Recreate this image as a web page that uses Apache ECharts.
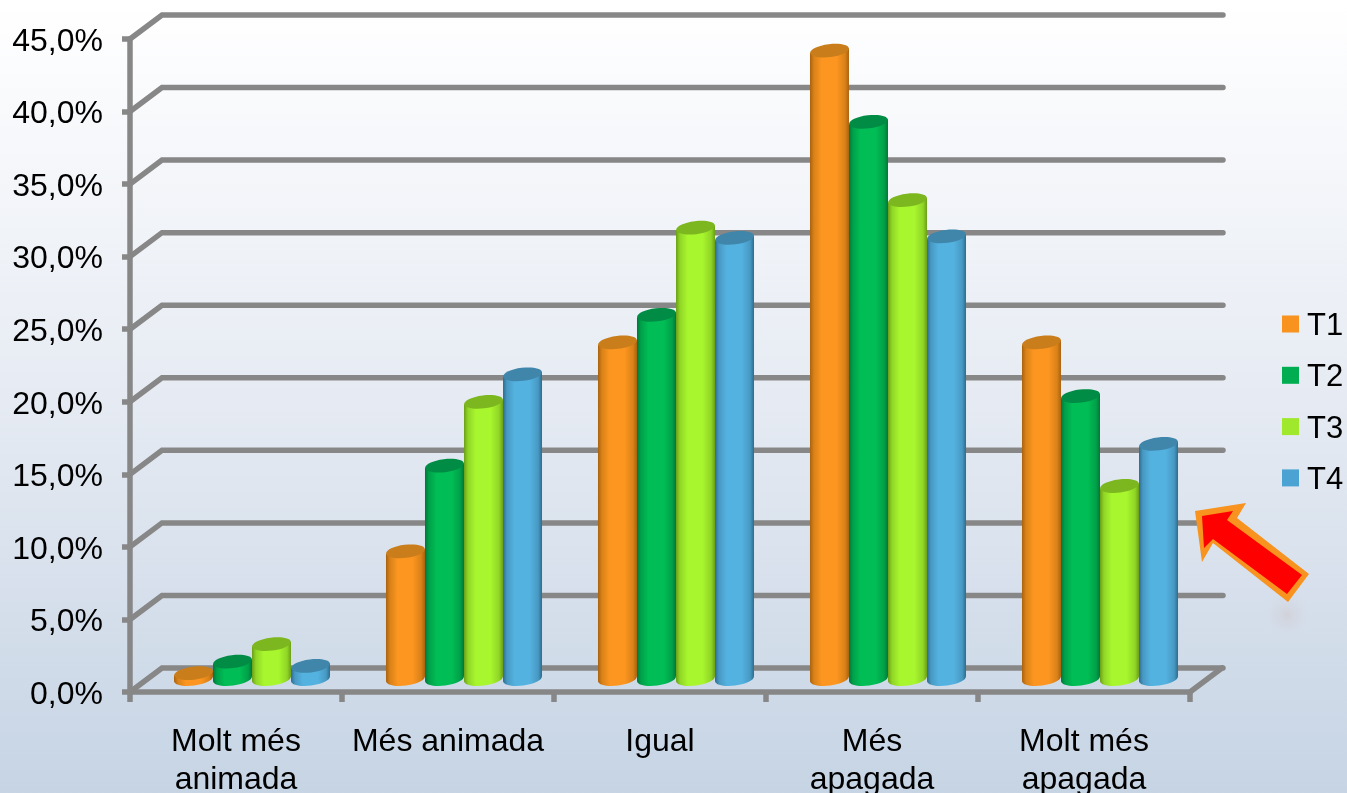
<!DOCTYPE html>
<html>
<head>
<meta charset="utf-8">
<style>html,body{margin:0;padding:0;background:#fff}#c{width:1347px;height:793px}</style>
<script src="https://cdn.jsdelivr.net/npm/echarts@6/dist/echarts.min.js"></script>
</head>
<body>
<div id="c"></div>
<script>
const categories = ['Molt més\nanimada', 'Més animada', 'Igual', 'Més\napagada', 'Molt més\napagada'];
const seriesNames = ['T1', 'T2', 'T3', 'T4'];
const t1 = [0.4, 8.8, 23.2, 43.3, 23.2];
const t2 = [1.2, 14.7, 25.1, 38.4, 19.5];
const t3 = [2.4, 19.1, 31.1, 33.0, 13.3];
const t4 = [0.9, 21.0, 30.4, 30.5, 16.2];
const yTicks = [0, 5, 10, 15, 20, 25, 30, 35, 40, 45];

const GREY = '#878787';
const FONT = '"Liberation Sans", Arial, sans-serif';
const palette = [
  {mid:'#fc9620', soft:'#d98118', edge:'#a8620f', top:'#c97e1b', legend:'#f7931e'},
  {mid:'#00be55', soft:'#00a049', edge:'#00773a', top:'#008c45', legend:'#00ad50'},
  {mid:'#a8f62e', soft:'#90d526', edge:'#6a9f18', top:'#7db71f', legend:'#a0e82c'},
  {mid:'#54b2e0', soft:'#4799c3', edge:'#2d6c8f', top:'#3f86aa', legend:'#4aa3d3'}
];
const allSeries = [t1, t2, t3, t4];

function cylinder(seriesIdx) {
  const c = palette[seriesIdx];
  return function (params, api) {
    const base = api.coord([api.value(0), 0]);
    const top = api.coord([api.value(0), api.value(1)]);
    const band = api.size([1, 0])[0];
    const w = band * 0.184;
    const cx = base[0] + 16 + (seriesIdx - 1.5) * w;
    const yb = base[1] - 13, yt = top[1] - 13;
    const rx = w / 2, ry = 6.5, tilt = 2.4;
    const fill = new echarts.graphic.LinearGradient(0, 0, 1, 0, [
      {offset: 0, color: c.edge}, {offset: 0.1, color: c.soft},
      {offset: 0.3, color: c.mid}, {offset: 0.68, color: c.mid},
      {offset: 0.9, color: c.soft}, {offset: 1, color: c.edge}
    ]);
    const rot = Math.atan2(tilt, rx);
    return {
      type: 'group',
      children: [
        {type: 'ellipse', shape: {cx: cx, cy: yb, rx: rx, ry: ry}, rotation: rot, originX: cx, originY: yb, style: {fill: fill}},
        {type: 'polygon', shape: {points: [[cx - rx, yt + tilt], [cx + rx, yt - tilt], [cx + rx, yb - tilt], [cx - rx, yb + tilt]]}, style: {fill: fill}},
        {type: 'ellipse', shape: {cx: cx, cy: yt, rx: rx, ry: ry}, rotation: rot, originX: cx, originY: yt, style: {fill: c.top}}
      ]
    };
  };
}

function wallLine(params, api) {
  const v = api.value(0);
  const sys = params.coordSys;
  const y = api.coord([0, v])[1];
  const x0 = sys.x, dx = 32, dy = 24;
  const x1 = sys.x + sys.width + 33;
  const st = {stroke: GREY, lineWidth: 5.5, lineCap: 'round', lineJoin: 'miter', fill: null};
  const kids = [{type: 'polyline', shape: {points: [[x0, y], [x0 + dx, y - dy], [x1, y - dy]]}, style: st}];
  if (v === 0) {
    const xr = sys.x + sys.width;
    kids.push({type: 'line', shape: {x1: xr, y1: y, x2: xr + dx, y2: y - dy}, style: st});
  }
  return {type: 'group', children: kids};
}

const chart = echarts.init(document.getElementById('c'), null, {renderer: 'canvas'});
chart.setOption({
  animation: false,
  backgroundColor: new echarts.graphic.LinearGradient(0, 0, 0, 1, [
    {offset: 0, color: '#ffffff'},
    {offset: 0.5, color: '#e6ebf3'},
    {offset: 1, color: '#c6d4e4'}
  ]),
  grid: {left: 130, right: 157, top: 39, bottom: 101, outerBoundsMode: 'none'},
  xAxis: {
    type: 'category',
    data: categories,
    axisLine: {lineStyle: {color: GREY, width: 5.5}},
    axisTick: {show: true, length: 10, alignWithLabel: false, lineStyle: {color: GREY, width: 5.5}},
    axisLabel: {color: '#000', fontFamily: FONT, fontSize: 32, lineHeight: 38, margin: 31, interval: 0}
  },
  yAxis: {
    type: 'value', min: 0, max: 45, interval: 5,
    splitLine: {show: false},
    axisLine: {show: true, lineStyle: {color: GREY, width: 5.5}},
    axisTick: {show: true, length: 8, lineStyle: {color: GREY, width: 5.5}},
    axisLabel: {color: '#000', fontFamily: FONT, fontSize: 32, margin: 27,
      formatter: v => '{a|' + v.toFixed(1).replace('.', ',') + '%}',
      rich: {a: {color: '#000', fontFamily: FONT, fontSize: 32, padding: [6, 0, 0, 0]}}}
  },
  legend: {
    orient: 'vertical', left: 1282, top: 311, padding: 0, itemWidth: 17, itemHeight: 17, itemGap: 20.3,
    icon: 'rect', data: seriesNames, selectedMode: false,
    formatter: name => '{a|' + name + '}',
    textStyle: {color: '#000', fontFamily: FONT, fontSize: 31,
      rich: {a: {color: '#000', fontFamily: FONT, fontSize: 31, padding: [5, 0, 0, 3]}}}
  },
  series: [
    {type: 'custom', name: 'wall', silent: true, z: 1, data: yTicks.map(v => [v]), renderItem: wallLine,
      encode: {y: 0}, clip: false}
  ].concat(allSeries.map((vals, i) => ({
    type: 'custom', name: seriesNames[i], z: 3 + i, silent: true, clip: false,
    itemStyle: {color: palette[i].legend},
    encode: {x: 0, y: 1},
    data: vals.map((v, k) => [k, v]),
    renderItem: cylinder(i)
  }))),
  graphic: [
    {type: 'circle', z: 5, silent: true, shape: {cx: 1287, cy: 615, r: 24},
      style: {fill: new echarts.graphic.RadialGradient(0.5, 0.5, 0.5, [
        {offset: 0, color: 'rgba(205,190,190,0.4)'}, {offset: 1, color: 'rgba(210,215,225,0)'}])}},
    {type: 'polygon', z: 20, silent: true,
      shape: {points: [[1195,511],[1246,503],[1237,518],[1309,574],[1288,602],[1213,543],[1202,562]]},
      style: {fill: '#f7931e'}},
    {type: 'polygon', z: 21, silent: true,
      shape: {points: [[1202,516],[1233,511],[1227,520],[1302,575],[1287,594],[1213,539],[1204,548]]},
      style: {fill: '#ff0000'}}
  ]
});
</script>
</body>
</html>
